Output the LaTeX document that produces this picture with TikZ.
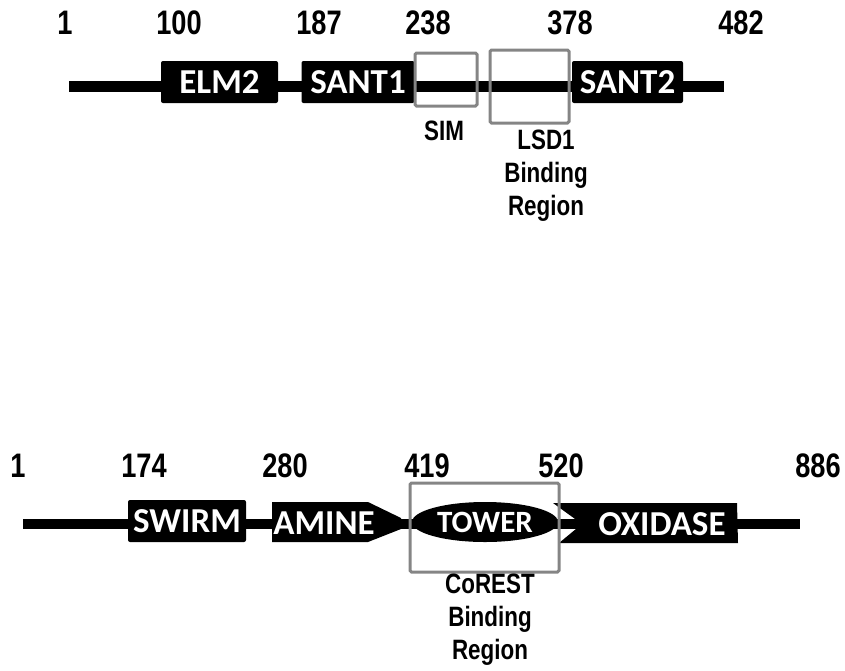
\documentclass[tikz,border=0pt]{standalone}
\usepackage{fontspec}
\setmainfont{Liberation Sans}
\newfontfamily\numfont[FakeStretch=0.8]{Liberation Sans}
\newfontfamily\domfont{Carlito}
\usetikzlibrary{shapes.geometric}
\begin{document}
\begin{tikzpicture}[x=1pt,y=-1pt,
  backbone/.style={line width=10.5pt},
  domfontstyle/.style={font=\domfont\bfseries\fontsize{35}{35}\selectfont},
  dombox/.style={fill=black, rounded corners=2pt, text=white, inner sep=0pt, domfontstyle},
  regionbox/.style={draw=black!48, line width=3pt, rounded corners=1.5pt},
  numlab/.style={font=\numfont\bfseries\fontsize{34}{34}\selectfont, inner sep=0pt},
  reglab/.style={font=\numfont\bfseries\fontsize{28}{33}\selectfont, align=center, inner sep=0pt}]
\useasboundingbox (0,0) rectangle (845,670);

% ---------- top protein ----------
\coordinate (tL) at (69,86.5);
\coordinate (tR) at (724,86.5);
\draw[backbone] (tL) -- (tR);

\node[dombox, minimum width=117pt, minimum height=42pt] (elm2) at (219.5,82) {ELM2};
\node[dombox, minimum width=113pt, minimum height=42pt] (sant1) at (358,82) {SANT1};
\node[dombox, minimum width=111pt, minimum height=42pt] (sant2) at (627.5,82) {SANT2};

\node[regionbox, minimum width=62pt, minimum height=53pt] (sim) at (446,79.5) {};
\node[regionbox, minimum width=79pt, minimum height=73pt] (lsd) at (529.5,86.5) {};

\node[numlab] (n1) at (65,23) {1};
\node[numlab] (n100) at (179,23) {100};
\node[numlab] (n187) at (319,23) {187};
\node[numlab] (n238) at (428,23) {238};
\node[numlab] (n378) at (570,23) {378};
\node[numlab] (n482) at (741,23) {482};

\node[reglab] (simlab) at (444,131) {SIM};
\node[reglab, text width=100pt] (lsdlab) at (546,176) {LSD1\\Binding\\Region};

% ---------- bottom protein ----------
\coordinate (bL) at (23,524);
\coordinate (bR) at (800,524);
\draw[backbone] (bL) -- (bR);

\node[dombox, minimum width=118pt, minimum height=42pt] (swirm) at (187,521) {SWIRM};

\fill (272,502) -- (368,502) -- (401,518) -- (401,529) -- (368,542) -- (272,542) -- cycle;
\node[text=white, domfontstyle, inner sep=0pt] (amine) at (324,523) {AMINE};

\node[ellipse, fill=black, minimum width=146pt, minimum height=40pt, inner sep=0pt,
      text=white, font=\domfont\bfseries\fontsize{31}{31}\selectfont] (tower) at (485,522) {TOWER};

\fill (553,503) -- (737,503) -- (738,543) -- (559,543) -- (582,524) -- cycle;
\node[text=white, domfontstyle, inner sep=0pt] (oxidase) at (662,524) {OXIDASE};

\node[regionbox, minimum width=149pt, minimum height=89pt] (corest) at (484.5,527.5) {};

\node[numlab] (m1) at (18,466) {1};
\node[numlab] (m174) at (144,466) {174};
\node[numlab] (m280) at (285,466) {280};
\node[numlab] (m419) at (427,466) {419};
\node[numlab] (m520) at (561,466) {520};
\node[numlab] (m886) at (818,466) {886};

\node[reglab, text width=120pt] (corestlab) at (490,620) {CoREST\\Binding\\Region};
\end{tikzpicture}
\end{document}
